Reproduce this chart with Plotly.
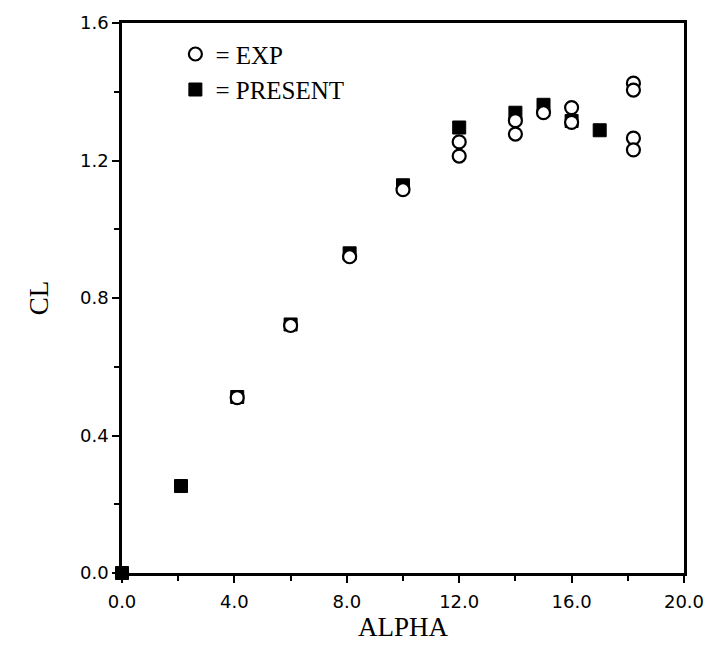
import plotly.graph_objects as go

# Experimental data (open circles)
exp_alpha = [4.1, 6.0, 8.1, 10.0, 12.0, 12.0, 14.0, 14.0, 15.0, 16.0, 16.0, 18.2, 18.2, 18.2, 18.2]
exp_cl = [0.51, 0.72, 0.92, 1.115, 1.254, 1.213, 1.316, 1.277, 1.339, 1.354, 1.311, 1.425, 1.405, 1.265, 1.231]

# Present computation (filled squares)
pres_alpha = [0.0, 2.1, 4.1, 6.0, 8.1, 10.0, 12.0, 14.0, 15.0, 16.0, 17.0]
pres_cl = [0.0, 0.253, 0.512, 0.723, 0.93, 1.128, 1.296, 1.339, 1.362, 1.315, 1.288]

x_ticks = [0, 4, 8, 12, 16, 20]
y_ticks = [0.0, 0.4, 0.8, 1.2, 1.6]

fig = go.Figure()
fig.add_trace(go.Scatter(
    x=pres_alpha, y=pres_cl, mode="markers", name="= PRESENT",
    legendrank=2, cliponaxis=False,
    marker=dict(symbol="square", size=13, color="black", line=dict(color="black", width=1)),
))
fig.add_trace(go.Scatter(
    x=exp_alpha, y=exp_cl, mode="markers", name="= EXP",
    legendrank=1, cliponaxis=False,
    marker=dict(symbol="circle", size=13, color="white", line=dict(color="black", width=2.2)),
))

axis_common = dict(
    showgrid=False, zeroline=False, showline=True, linecolor="black", linewidth=2.5,
    mirror=True, ticks="outside", ticklen=7, tickwidth=2, tickcolor="black",
    tickfont=dict(family="DejaVu Sans", size=18, color="black"),
)
fig.update_xaxes(
    range=[0, 20], tickvals=x_ticks, tickformat=".1f", ticklabelstandoff=4,
    minor=dict(dtick=2, ticks="outside", ticklen=5, tickwidth=1.5, tickcolor="black"),
    title=dict(text="ALPHA", font=dict(family="Liberation Serif", size=27, color="black"), standoff=4),
    **axis_common,
)
fig.update_yaxes(
    range=[0, 1.6], tickvals=y_ticks, tickformat=".1f",
    minor=dict(dtick=0.2, ticks="outside", ticklen=5, tickwidth=1.5, tickcolor="black"),
    title=dict(text="CL", font=dict(family="Liberation Serif", size=27, color="black"), standoff=24),
    **axis_common,
)
fig.update_layout(
    width=716, height=648,
    margin=dict(l=122, r=29, t=14, b=75),
    plot_bgcolor="white", paper_bgcolor="white",
    showlegend=True,
    legend=dict(
        x=0.095, y=0.985, xanchor="left", yanchor="top",
        bgcolor="rgba(0,0,0,0)", borderwidth=0,
        font=dict(family="Liberation Serif", size=25, color="black"),
        itemwidth=30, tracegroupgap=0,
    ),
)
fig.write_html("out.html")
